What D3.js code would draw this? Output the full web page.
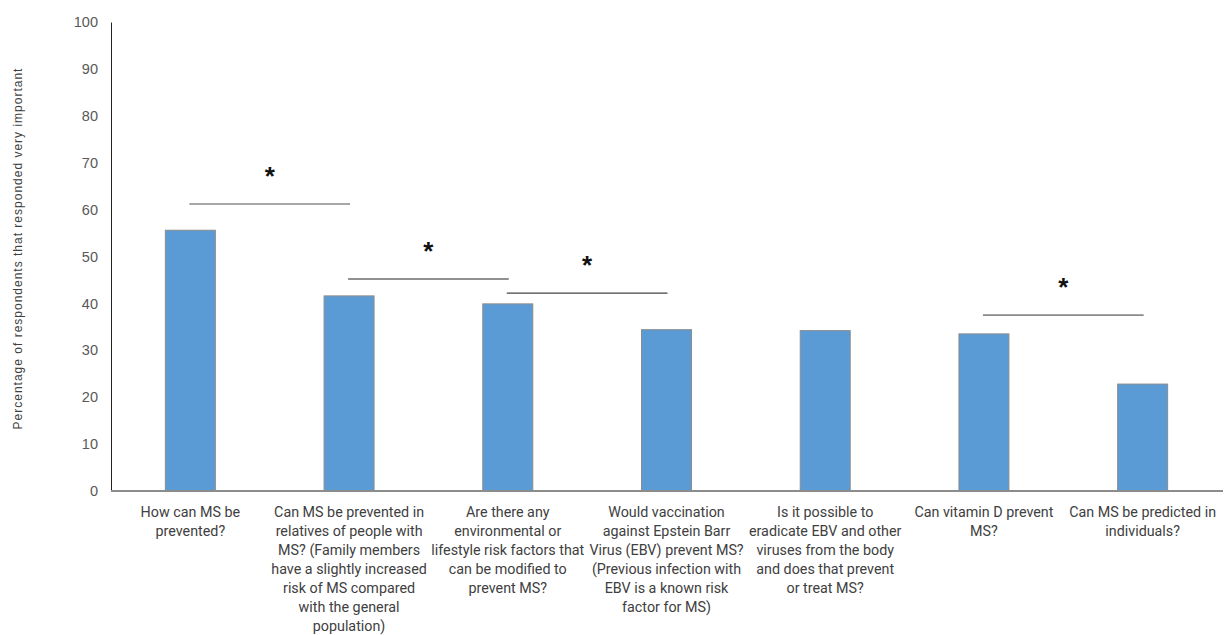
<!DOCTYPE html>
<html><head><meta charset="utf-8">
<script src="https://cdn.jsdelivr.net/npm/d3@7"></script>
<style>body{margin:0;background:#fff}</style>
</head><body>
<svg id="c" width="1226" height="635"></svg>
<script>
const categories = [
  ["How can MS be","prevented?"],
  ["Can MS be prevented in","relatives of people with","MS? (Family members","have a slightly increased","risk of  MS compared","with the general","population)"],
  ["Are there any","environmental or","lifestyle risk factors that","can be modified to","prevent MS?"],
  ["Would vaccination","against Epstein Barr","Virus (EBV) prevent MS?","(Previous infection with","EBV is a known risk","factor for MS)"],
  ["Is it possible to","eradicate EBV and other","viruses from the body","and does that prevent","or treat MS?"],
  ["Can vitamin D prevent","MS?"],
  ["Can MS be predicted in","individuals?"]
];
const values = [55.6, 41.6, 39.9, 34.4, 34.2, 33.5, 22.8];
const yTicks = [0,10,20,30,40,50,60,70,80,90,100];
const sigFrom = [0, 1, 2, 5];
const sigTo = [1, 2, 3, 6];
const sigLevel = [61.2, 45.2, 42.2, 37.5];
const yTitle = "Percentage of respondents  that responded very important";

const svg = d3.select("#c");
const m = {l:111, r:1222, t:22, b:491};
const x = d3.scaleBand().domain(d3.range(categories.length)).range([m.l, m.r]).paddingInner(0.685).paddingOuter(0.3425);
const y = d3.scaleLinear().domain([0,100]).range([m.b, m.t]);

// bars
svg.selectAll("rect.bar").data(values).join("rect")
  .attr("class","bar")
  .attr("x",(d,i)=>x(i)).attr("width",x.bandwidth())
  .attr("y",d=>y(d)).attr("height",d=>y(0)-y(d))
  .attr("fill","#5b9bd5").attr("stroke","#8c8c8c").attr("stroke-width",1);

// y axis
const ya = svg.append("g").attr("transform",`translate(${m.l},0)`)
  .call(d3.axisLeft(y).tickValues(yTicks).tickSize(0).tickPadding(13));
ya.select(".domain").attr("stroke","#222").attr("stroke-width",1);
ya.selectAll("text").attr("font-family","Liberation Sans, Arial, sans-serif").attr("font-size",14.5).attr("fill","#595959");

// x axis line
svg.append("line").attr("x1",m.l).attr("x2",m.r+1).attr("y1",y(0)).attr("y2",y(0))
  .attr("stroke","#8c8c8c").attr("stroke-width",2);

// x labels
const lab = svg.append("g");
categories.forEach((lines,i)=>{
  const t = lab.append("text").attr("x",x(i)+x.bandwidth()/2).attr("y",517)
    .attr("text-anchor","middle").attr("font-family","Roboto, sans-serif")
    .attr("font-size",14.3).attr("fill","#404040");
  lines.forEach((ln,j)=>t.append("tspan").attr("x",x(i)+x.bandwidth()/2).attr("dy",j?19:0).text(ln));
});

// y title
svg.append("text").attr("transform",`translate(22,${(m.t+m.b)/2-8}) rotate(-90)`)
  .attr("text-anchor","middle").attr("font-family","Liberation Sans, Arial, sans-serif")
  .attr("font-size",12).attr("letter-spacing",1).attr("fill","#404040").text(yTitle);

// significance lines
const cx = i => x(i)+x.bandwidth()/2;
const sigColors = ["#8a8a8a","#222","#444","#8a8a8a"];
const sigWidths = [1.6, 1, 1.2, 1.6];
sigFrom.forEach((f,k)=>{
  const t = sigTo[k], yy = y(sigLevel[k]);
  svg.append("line").attr("x1",cx(f)-1).attr("x2",cx(t)+1).attr("y1",yy).attr("y2",yy)
    .attr("stroke",sigColors[k]).attr("stroke-width",sigWidths[k]);
  svg.append("text").attr("x",(cx(f)+cx(t))/2).attr("y",yy-19)
    .attr("text-anchor","middle").attr("font-family","Liberation Sans, Arial, sans-serif")
    .attr("font-weight","bold").attr("font-size",26).attr("fill","#111").text("*");
});
</script>
</body></html>
